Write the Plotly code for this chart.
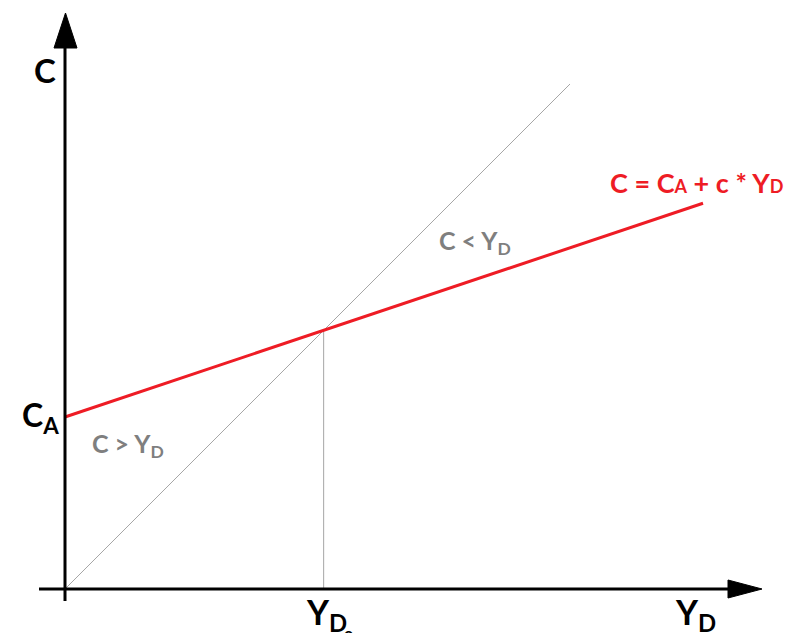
################################################################################
# Libraries
################################################################################
import plotly.graph_objects as go
################################################################################
# Data (keynesian consumption function, arbitrary units)
################################################################################
caValue = 172          # autonomous consumption C_A
cSlope = 0.335         # marginal propensity to consume c
ydMax = 638            # end of consumption line
diagMax = 505          # end of 45 degree line
ydZero = caValue / (1 - cSlope)   # break-even income Y_D0

consX = [0, ydMax]
consY = [caValue, caValue + cSlope * ydMax]
diagX = [0, diagMax]
diagY = [0, diagMax]
vertX = [ydZero, ydZero]
vertY = [0, ydZero]
################################################################################
# Style
################################################################################
fontName = "Lato"
red = "#ee1c25"
grayText = "#7f7f7f"
grayLine = "#a6a6a6"
################################################################################
# Plot
################################################################################
fig = go.Figure()
fig.add_trace(go.Scatter(x=diagX, y=diagY, mode="lines",
                         line=dict(color=grayLine, width=1), hoverinfo="skip"))
fig.add_trace(go.Scatter(x=vertX, y=vertY, mode="lines",
                         line=dict(color=grayLine, width=1), hoverinfo="skip"))
fig.add_trace(go.Scatter(x=consX, y=consY, mode="lines",
                         line=dict(color=red, width=3), hoverinfo="skip"))

# axes with arrow heads
axisLine = dict(color="black", width=3)
fig.add_shape(type="line", x0=0, x1=0, y0=-12, y1=545, xref="x", yref="y", line=axisLine)
fig.add_shape(type="line", x0=-26, x1=665, y0=0, y1=0, xref="x", yref="y", line=axisLine)
fig.add_shape(type="path", path="M -11 541 L 12 541 L 0.5 576 Z", xref="x", yref="y",
              fillcolor="black", line=dict(color="black", width=1))
fig.add_shape(type="path", path="M 663 9 L 663 -9 L 697 0 Z", xref="x", yref="y",
              fillcolor="black", line=dict(color="black", width=1))

labels = [
    dict(x=-20, y=519, text="C", size=33, color="black"),
    dict(x=-25, y=172, text="C<sub>A</sub>", size=32, color="black"),
    dict(x=63, y=144, text="C > Y<sub>D</sub>", size=25, color=grayText),
    dict(x=410, y=347, text="C < Y<sub>D</sub>", size=25, color=grayText),
    dict(x=632, y=407, text="C = C<span style='font-size:18px'>A</span> + c * Y<span style='font-size:18px'>D</span>",
         size=27, color=red),
    dict(x=261, y=-25, text="Y<sub>D</sub>", size=34, color="black"),
    dict(x=630, y=-25, text="Y<sub>D</sub>", size=34, color="black"),
    dict(x=283, y=-46, text="0", size=16, color="black"),
]
for lab in labels:
    fig.add_annotation(x=lab["x"], y=lab["y"], xref="x", yref="y", text="<b>%s</b>" % lab["text"],
                       showarrow=False, xanchor="center", yanchor="middle",
                       font=dict(family=fontName, size=lab["size"], color=lab["color"]))

# page body has an 8px margin, so ranges are shifted by that amount
fig.update_layout(width=798, height=633, margin=dict(l=0, r=0, t=0, b=0),
                  plot_bgcolor="white", paper_bgcolor="white", showlegend=False)
fig.update_xaxes(range=[-57, 741], visible=False, fixedrange=True)
fig.update_yaxes(range=[-52, 581], visible=False, fixedrange=True)
fig.write_html("out.html")
